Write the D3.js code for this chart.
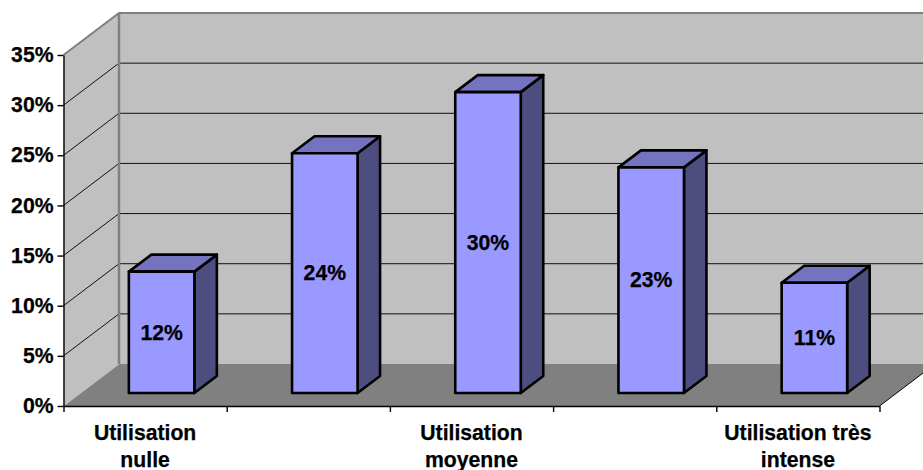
<!DOCTYPE html>
<html><head><meta charset="utf-8">
<script src="https://cdn.jsdelivr.net/npm/d3@7/dist/d3.min.js"></script>
<style>html,body{margin:0;background:#fff}svg{display:block}
text{font-family:"Liberation Sans",Arial,sans-serif;font-weight:bold;fill:#000;stroke:#000;stroke-width:.25px}</style></head>
<body><svg id="c" width="923" height="470"></svg>
<script>
const categories = ["Utilisation nulle","","Utilisation moyenne","","Utilisation très intense"];
const categoryLines = [["Utilisation","nulle"],[],["Utilisation","moyenne"],[],["Utilisation très","intense"]];
const values = [12.1,23.9,30,22.5,11];
const yTicks = [0,5,10,15,20,25,30,35];

const FS = 21.2;
const svg = d3.select("#c");
const y = d3.scaleLinear().domain([0,35]).range([406,55]);
const x = d3.scaleBand().domain(d3.range(categories.length)).range([63.5,879.5]).paddingInner(0).paddingOuter(0);
const xEdge = d3.scaleLinear().domain([0,categories.length]).range([63.5,879.5]);
const fmt = v => Math.round(v)+"%";
const DX = 55.5, DY = -42;           // wall depth
const BX = 16.5, BY = -13;           // bar position in depth
const SX = 22.5, SY = -17;           // bar depth
const BW = 65.5;
const L = xEdge(0), R = xEdge(categories.length), Y0 = y(0), Yt = y(35);
const path = pts => "M"+pts.map(p=>p.join(",")).join("L")+"Z";

// walls and floor
svg.append("path").attr("d",path([[L,Y0],[L+DX,Y0+DY],[L+DX,Yt+DY],[L,Yt]])).attr("fill","#c0c0c0");
svg.append("path").attr("d",path([[L+DX,Y0+DY],[R+DX,Y0+DY],[R+DX,Yt+DY],[L+DX,Yt+DY]])).attr("fill","#c0c0c0");
svg.append("path").attr("d",path([[L,Y0],[R,Y0],[R+DX,Y0+DY],[L+DX,Y0+DY]])).attr("fill","#808080");

// gridlines
const grid = yTicks.filter(t=>t>0 && t<35);
svg.append("g").selectAll("path").data(grid).join("path")
  .attr("d",t=>`M${L},${y(t)}L${L+DX},${y(t)+DY}L${R+DX},${y(t)+DY}`)
  .attr("fill","none").attr("stroke","#111").attr("stroke-width",1);

// wall borders
svg.append("path").attr("d",`M${L},${Yt}L${L+DX},${Yt+DY}L${R+DX},${Yt+DY}`)
  .attr("fill","none").attr("stroke","#808080").attr("stroke-width",2);
svg.append("line").attr("x1",L+DX).attr("x2",L+DX).attr("y1",Yt+DY).attr("y2",Y0+DY)
  .attr("stroke","#808080").attr("stroke-width",2.5);
svg.append("path").attr("d",`M${L},${Y0}L${L+DX},${Y0+DY}`).attr("stroke","#c0c0c0").attr("fill","none");
svg.append("path").attr("d",`M${R},${Y0}L${R+DX},${Y0+DY}`).attr("stroke","#000").attr("fill","none");

// axes
const ay = svg.append("g").attr("transform",`translate(${L},0)`)
  .call(d3.axisLeft(y).tickValues(yTicks).tickFormat(d=>d+"%").tickSize(6).tickSizeOuter(0).tickPadding(4));
const ax = svg.append("g").attr("transform",`translate(0,${Y0})`)
  .call(d3.axisBottom(xEdge).tickValues(d3.range(categories.length+1)).tickFormat("").tickSize(6).tickSizeOuter(0));
[ay,ax].forEach(a=>{a.selectAll("path,line").attr("stroke","#000").attr("stroke-width",1.4);a.attr("font-family",null).attr("font-size",null)});
ay.selectAll("text").attr("font-size",FS).attr("dy","0.31em");

// bars
const bars = svg.append("g").selectAll("g").data(values).join("g");
const fx = (d,i)=>x(i)+x.bandwidth()/2+BX-BW/2;
const barTop = d=>y(d)+BY, bot = y(0)+BY;
const st = s=>s.attr("stroke","#000").attr("stroke-width",2.6).attr("stroke-linejoin","round");
st(bars.append("path").attr("d",(d,i)=>path([[fx(d,i)+BW,barTop(d)],[fx(d,i)+BW+SX,barTop(d)+SY],[fx(d,i)+BW+SX,bot+SY],[fx(d,i)+BW,bot]])).attr("fill","#4d4d80"));
st(bars.append("path").attr("d",(d,i)=>path([[fx(d,i),barTop(d)],[fx(d,i)+SX,barTop(d)+SY],[fx(d,i)+BW+SX,barTop(d)+SY],[fx(d,i)+BW,barTop(d)]])).attr("fill","#7373bf"));
st(bars.append("rect").attr("x",fx).attr("y",barTop).attr("width",BW).attr("height",d=>bot-barTop(d)).attr("fill","#9999ff"));
bars.append("text").attr("x",(d,i)=>fx(d,i)+BW/2).attr("y",d=>(barTop(d)+bot)/2).attr("dy","0.34em")
  .attr("text-anchor","middle").attr("font-size",FS).text(fmt);

// category labels
svg.append("g").selectAll("text").data(categoryLines).join("text")
  .attr("text-anchor","middle").attr("font-size",FS)
  .each(function(lines,i){
    d3.select(this).selectAll("tspan").data(lines).join("tspan")
      .attr("x",x(i)+x.bandwidth()/2).attr("y",(d,j)=>439.5+j*27).text(d=>d);
  });
</script></body></html>
